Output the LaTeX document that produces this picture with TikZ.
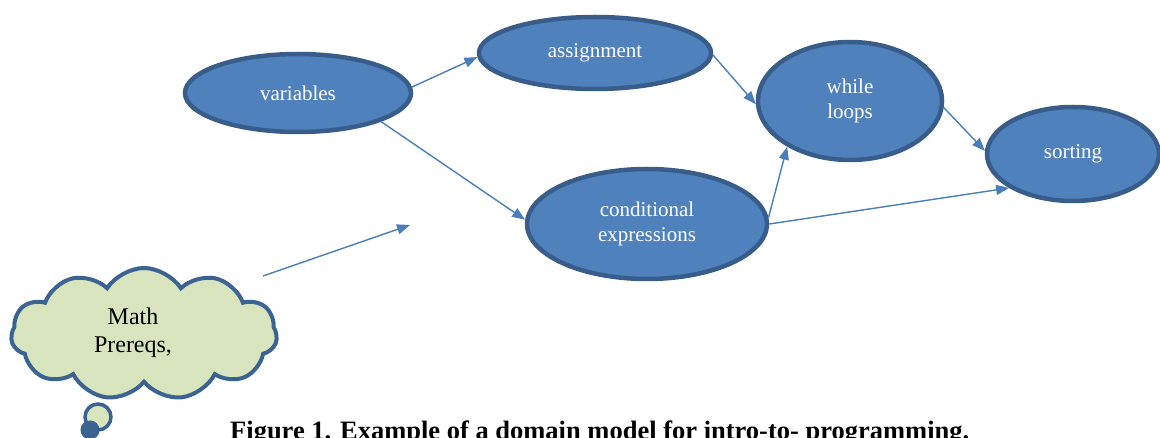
\documentclass[tikz,border=0pt]{standalone}
\usepackage{fontspec}
\setmainfont{Liberation Serif}
\usetikzlibrary{shapes.geometric,shapes.symbols,arrows.meta}
\definecolor{nodefill}{HTML}{4F81BD}
\definecolor{nodeline}{HTML}{385D8A}
\definecolor{arrowc}{HTML}{4A7EBB}
\definecolor{cloudfill}{HTML}{D7E4BD}
\definecolor{cloudline}{HTML}{3B6392}
\tikzset{
  concept/.style={ellipse, draw=nodeline, fill=nodefill, line width=4.5pt, inner sep=0pt,
    text=white, align=center, font=\fontsize{21}{25}\selectfont},
  link/.style={draw=arrowc, line width=1.4pt, -{Triangle[length=13pt,width=10pt]}},
}
\begin{document}
\begin{tikzpicture}[x=1pt,y=-1pt]
\useasboundingbox (0,0) rectangle (1160,438);
\clip (0,0) rectangle (1160,438);
% concept nodes
\node[concept, minimum width=226, minimum height=78] (var) at (298,93) {variables};
\node[concept, minimum width=232, minimum height=72] (asg) at (595,53) {assignment};
\node[concept, minimum width=184, minimum height=118] (whl) at (850,101) {while\\loops};
\node[concept, minimum width=172, minimum height=94] (srt) at (1073,154) {sorting};
\node[concept, minimum width=240, minimum height=110] (cnd) at (647,224) {conditional\\expressions};
% connectors
\draw[link] (var.3) -- (asg.182);
\draw[link] (var.-19.5) -- (cnd.178);
\draw[link] (asg.-1.5) -- (whl.-178);
\draw[link] (whl.-4) -- (srt.178.7);
\draw[link] (cnd.3.7) -- (whl.-144);
\draw[link] (cnd.0.5) -- (srt.208.4);
% thought bubble
\node[circle, draw=cloudline, fill=cloudfill, line width=3.5pt, minimum size=26, inner sep=0pt] (tail1) at (98,417) {};
\node[circle, draw=cloudline, fill=cloudline, line width=1pt, minimum size=18, inner sep=0pt] (tail2) at (90,430) {};
\node[cloud, cloud puffs=11, cloud puff arc=115, aspect=2.1, draw=cloudline, fill=cloudfill,
  line width=4pt, minimum width=266, minimum height=132, inner sep=0pt] (cloud) at (144,334) {};
\node[align=center, font=\fontsize{24}{28}\selectfont] (ctext) at (133,333) {Math\\Prereqs,};
\coordinate (cs) at (263,276);
\coordinate (cf) at (410,225);
\draw[link] (cs) -- (cf);
% caption
\node[anchor=base west, inner sep=0pt, font=\fontsize{26.5}{30}\selectfont\bfseries] (cap) at (230,439)
  {Figure 1. Example of a domain model for intro-to- programming.};
\end{tikzpicture}
\end{document}
